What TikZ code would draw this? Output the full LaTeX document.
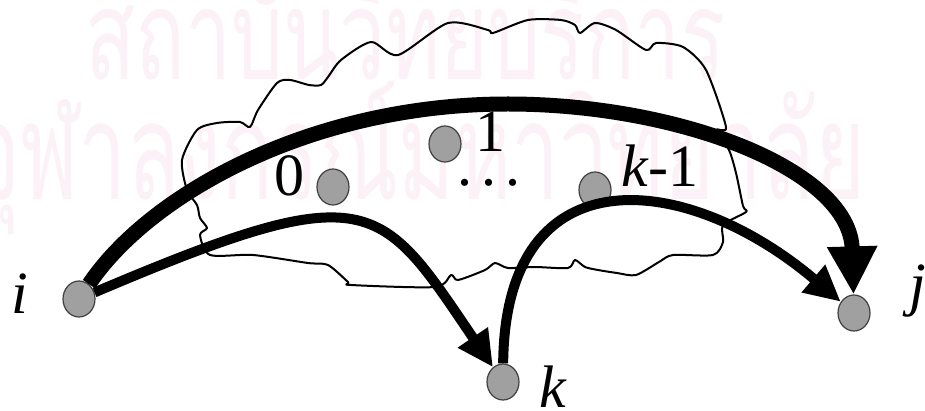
\documentclass[tikz,border=0pt]{standalone}
\usepackage{fontspec}
\usepackage{graphicx}
\setmainfont{Liberation Serif}
\newfontfamily\thaifont[Script=Thai]{Loma}
\usetikzlibrary{arrows.meta,shapes.geometric}
\definecolor{wm}{RGB}{251,241,246}
\definecolor{nodegray}{RGB}{160,160,160}
\begin{document}
\begin{tikzpicture}[x=1pt,y=-1pt,
  vtx/.style={ellipse, draw=black!75, line width=1.2pt, fill=nodegray, minimum width=32pt, minimum height=36pt, inner sep=0pt},
  lbl/.style={font=\fontsize{60}{60}\selectfont, inner sep=0pt, anchor=base},
  bigarr/.style={line width=15pt, -{Triangle[length=48pt,width=47pt]}},
  thinarr/.style={line width=10pt, -{Triangle[length=36pt,width=34pt]}},
  cloudline/.style={line width=2pt, line join=round},
  wmark/.style={text=wm, inner sep=0pt, anchor=base west}]
\useasboundingbox (0,0) rectangle (925,411);
\clip (0,0) rectangle (925,411);
% watermark
\node[wmark] (w1) at (85,80) {\resizebox{640pt}{\height}{\thaifont\fontsize{125}{125}\selectfont สถาบันวิทยบริการ}};
\node[wmark] (w2) at (-30,200) {\resizebox{895pt}{\height}{\thaifont\fontsize{135}{135}\selectfont จุฬาลงกรณ์มหาวิทยาลัย}};
% cloud
\draw[cloudline] plot[smooth cycle, tension=0.45] coordinates {
 (210,255) (200,235) (207,228) (200,218) (197,205) (187,190) (182,160) (197,130)
 (217,123) (240,122) (250,127) (258,110) (277,83) (290,80) (309,85) (321,85)
 (328,77) (341,60) (371,42) (398,55) (448,23) (488,30) (493,33) (528,20) (561,20)
 (575,25) (580,33) (595,23) (616,30) (646,50) (656,43) (683,47) (706,70) (726,127)
 (716,130) (729,150) (736,173) (743,206) (746,212) (723,225) (723,242) (713,255)
 (673,255) (659,262) (636,275) (617,273) (598,270) (585,267) (575,260) (568,268)
 (535,267) (508,268) (495,263) (485,270) (458,280) (451,275) (435,287) (351,285)
 (348,282) (328,265) (308,263) (253,255)};
% vertices
\node[vtx] (i) at (79,299) {};
\node[vtx] (n0) at (333,187) {};
\node[vtx] (n1) at (445,144) {};
\node[vtx] (km1) at (595,190) {};
\node[vtx] (k) at (503,382) {};
\node[vtx] (j) at (854,313) {};
% labels
\node[lbl] (li) at (20,313) {\textit{i}};
\node[lbl] (l0) at (289,196) {0};
\node[lbl] (l1) at (490,152) {1};
\node[lbl] (ldots) at (489,186) {.\hspace{9pt}.\hspace{9pt}.};
\node[lbl] (lkm1) at (660,187) {\textit{k}-1};
\node[lbl] (lk) at (553,407) {\textit{k}};
\node[lbl] (lj) at (918,305) {\textit{j}};
% connectors
\coordinate (top) at (508,104);
\draw[bigarr] (i) .. controls (149,195) and (310,104) .. (top) .. controls (680,104) and (850,170) .. (j);
\draw[thinarr] (i) .. controls (371,175) and (379,199) .. (k);
\draw[thinarr] (k) .. controls (505,150) and (688,172) .. (j);
\end{tikzpicture}
\end{document}
